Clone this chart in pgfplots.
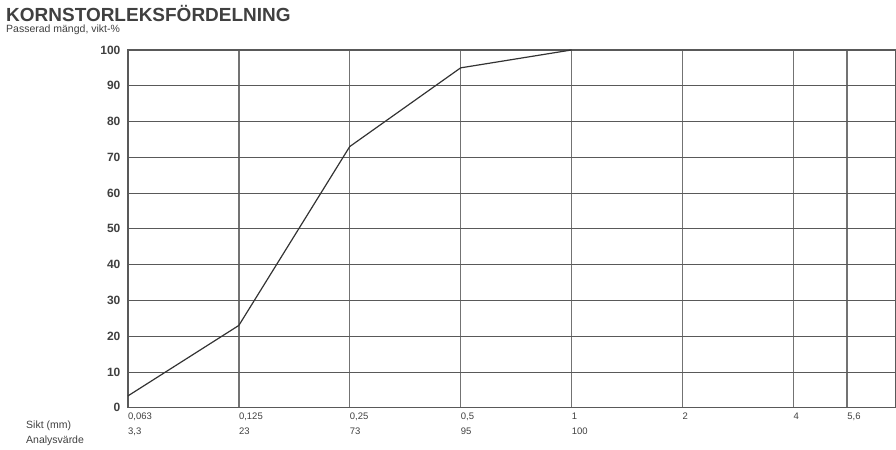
\documentclass[border=0pt]{standalone}
\usepackage{pgfplots}
\pgfplotsset{compat=1.18}
\usepackage{fontspec}
\setmainfont{Liberation Sans}
\begin{document}
\begin{tikzpicture}
\begin{axis}[
  scale only axis, width=768pt, height=358pt,
  xmin=0, xmax=6.92, ymin=0, ymax=100,
  clip=false,
  axis line style={draw=black!65, line width=1.2pt},
  xtick={0,1,2,3,4,5,6,6.485},
  xticklabels={{0,063\\3,3},{0,125\\23},{0,25\\73},{0,5\\95},{1\\100},2,4,{5,6}},
  xticklabel style={align=left, anchor=north west, font=\fontsize{9.5}{15}\selectfont, text=black!75, inner xsep=0pt, yshift=-2pt},
  ytick={0,10,...,100},
  yticklabels={0,10,20,30,40,50,60,70,80,90,100},
  yticklabel style={font=\fontsize{12}{13}\selectfont\bfseries, text=black!75, xshift=-4pt},
  major tick length=0pt,
  xmajorgrids, ymajorgrids,
  x grid style={draw=black!55, line width=1.5pt},
  y grid style={draw=black!65, line width=0.9pt},
]
\addplot[draw=black!80, line width=1.2pt, mark=none] coordinates {
  (0,3.3) (1,23) (2,73) (3,95) (4,100)
};
\end{axis}
\node[anchor=base west, font=\fontsize{19}{20}\selectfont\bfseries, text=black!75, inner sep=0pt] at (-122pt,386pt) {KORNSTORLEKSFÖRDELNING};
\node[anchor=base west, font=\fontsize{10.5}{11}\selectfont, text=black!75, inner sep=0pt] at (-122pt,375pt) {Passerad mängd, vikt-\%};
\node[anchor=base west, font=\fontsize{10.5}{11}\selectfont, text=black!75, inner sep=0pt] at (-102pt,-21pt) {Sikt (mm)};
\node[anchor=base west, font=\fontsize{10.5}{11}\selectfont, text=black!75, inner sep=0pt] at (-102pt,-36pt) {Analysvärde};
\useasboundingbox (-128pt,-42pt) rectangle (768pt,408pt);
\end{tikzpicture}
\end{document}
